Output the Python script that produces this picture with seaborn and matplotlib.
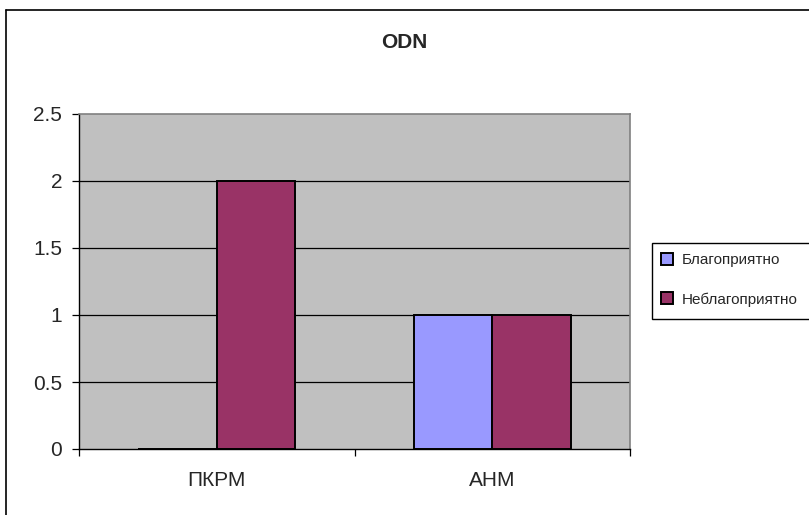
import matplotlib
matplotlib.use("Agg")
import matplotlib.pyplot as plt
import seaborn as sns
import pandas as pd
from matplotlib.lines import Line2D
from matplotlib.patches import Patch, Rectangle

categories = ["ПКРМ", "АНМ"]
series_names = ["Благоприятно", "Неблагоприятно"]
fav_values = [0, 1]
unfav_values = [2, 1]
y_ticks = [0, 0.5, 1, 1.5, 2, 2.5]
y_tick_labels = ["0", "0.5", "1", "1.5", "2", "2.5"]
colors = ["#9999FF", "#993366"]

df = pd.DataFrame({
    "cat": categories * 2,
    "series": [series_names[0]] * 2 + [series_names[1]] * 2,
    "val": fav_values + unfav_values,
})

sns.set_theme(style="white")
plt.rcParams["font.family"] = ["Liberation Sans", "DejaVu Sans"]

fig = plt.figure(figsize=(8.09, 5.15), dpi=100)
ax = fig.add_axes([79/809, 1-449/515, 551/809, 335/515])
ax.set_facecolor("#C0C0C0")

sns.barplot(data=df, x="cat", y="val", hue="series", palette=colors,
            saturation=1, width=0.571, gap=0, edgecolor="black", linewidth=1.4,
            ax=ax, legend=False, zorder=3)

ax.set_xlim(-0.5, 1.5)
ax.set_ylim(0, 2.5)
ax.set_yticks(y_ticks)
ax.set_yticklabels(y_tick_labels, fontsize=15)
for y in y_ticks[1:-1]:
    ax.axhline(y, color="black", lw=0.9, zorder=1)

ax.set_xticks([0, 1])
ax.set_xticklabels(categories, fontsize=15)
ax.set_xticks([-0.5, 0.5, 1.5], minor=True)
ax.tick_params(axis="x", which="major", length=0, pad=16)
ax.tick_params(axis="x", which="minor", length=5, width=0.9, color="black", direction="out", bottom=True)
ax.tick_params(axis="y", length=5, width=0.9, color="black", direction="out", left=True, pad=7)
ax.set_xlabel("")
ax.set_ylabel("")

for s in ["top", "right"]:
    ax.spines[s].set_color("#808080")
    ax.spines[s].set_linewidth(1.2)
for s in ["left", "bottom"]:
    ax.spines[s].set_color("black")
    ax.spines[s].set_linewidth(1.0)
ax.spines["bottom"].set_zorder(5)

fig.text(404/809, 1-42/515, "ODN", ha="center", va="center", fontsize=15, fontweight="bold")

# legend frame (extends past the right edge, as in the reference)
fig.add_artist(Rectangle((652/809, 1-319/515), 170/809, 76/515, transform=fig.transFigure,
                         facecolor="white", edgecolor="black", lw=1.0, zorder=2))
handles = [Patch(facecolor=c, edgecolor="black", linewidth=1.4) for c in colors]
leg = fig.legend(handles, series_names, loc="upper left",
                 bbox_to_anchor=(653/809, 1-245/515), fontsize=11,
                 frameon=False, handlelength=0.8, handleheight=0.85, handletextpad=0.6,
                 labelspacing=1.65, borderpad=0.5, borderaxespad=0)
leg.set_zorder(3)

# outer chart border
fig.add_artist(Line2D([6/809, 6/809], [0, 1-10/515], transform=fig.transFigure, color="black", lw=1.2))
fig.add_artist(Line2D([6/809, 1], [1-10/515, 1-10/515], transform=fig.transFigure, color="black", lw=1.2))

fig.savefig("out.png", dpi=100, facecolor="white")
